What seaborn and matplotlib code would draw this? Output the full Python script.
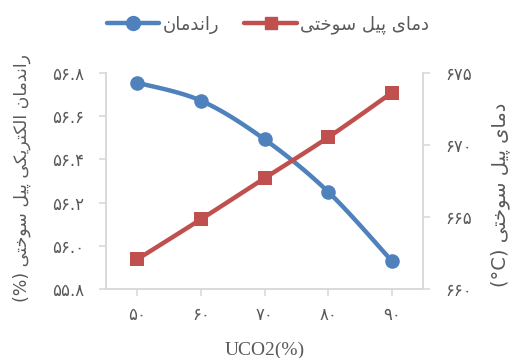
import numpy as np
import pandas as pd
import matplotlib
matplotlib.use("Agg")
import matplotlib.pyplot as plt
from matplotlib.lines import Line2D
from matplotlib.ticker import FixedLocator, FuncFormatter
import seaborn as sns

# ---- data -------------------------------------------------------------
uco2 = [50, 60, 70, 80, 90]
efficiency = [56.755, 56.672, 56.493, 56.25, 55.93]      # %
temperature = [662.06, 664.84, 667.69, 670.53, 673.63]   # °C

eff_name = "راندمان"
temp_name = "دمای پیل سوختی"
left_title = "راندمان الکتریکی پیل سوختی"
right_title = "دمای پیل سوختی"
x_title = "UCO2(%)"

eff_ticks = [55.8, 56.0, 56.2, 56.4, 56.6, 56.8]
temp_ticks = [660, 665, 670, 675]

BLUE = "#4F81BD"
RED = "#C0504D"
GREY_TXT = "#595959"
GREY_AX = "#D9D9D9"

# ---- Persian text helpers (contextual forms + right-to-left order) ----
FORMS = {
    'ا': ('\uFE8D', '\uFE8E', None, None),
    'د': ('\uFEA9', '\uFEAA', None, None),
    'ر': ('\uFEAD', '\uFEAE', None, None),
    'و': ('\uFEED', '\uFEEE', None, None),
    'پ': ('\uFB56', '\uFB57', '\uFB58', '\uFB59'),
    'ت': ('\uFE95', '\uFE96', '\uFE97', '\uFE98'),
    'خ': ('\uFEA5', '\uFEA6', '\uFEA7', '\uFEA8'),
    'س': ('\uFEB1', '\uFEB2', '\uFEB3', '\uFEB4'),
    'ک': ('\uFB8E', '\uFB8F', '\uFB90', '\uFB91'),
    'ل': ('\uFEDD', '\uFEDE', '\uFEDF', '\uFEE0'),
    'م': ('\uFEE1', '\uFEE2', '\uFEE3', '\uFEE4'),
    'ن': ('\uFEE5', '\uFEE6', '\uFEE7', '\uFEE8'),
    'ی': ('\uFBFC', '\uFBFD', '\uFBFE', '\uFBFF'),
}


def shape_word(word):
    out = []
    for i, ch in enumerate(word):
        f = FORMS[ch]
        prev = word[i - 1] if i > 0 else None
        nxt = word[i + 1] if i + 1 < len(word) else None
        join_prev = prev is not None and FORMS[prev][2] is not None
        join_next = nxt is not None and f[2] is not None
        if join_prev and join_next:
            g = f[3]
        elif join_prev:
            g = f[1]
        elif join_next:
            g = f[2]
        else:
            g = f[0]
        out.append(g)
    return ''.join(reversed(out))


def rtl(text):
    return ' '.join(shape_word(w) for w in reversed(text.split()))


FA_DIGITS = str.maketrans("0123456789", "۰۱۲۳۴۵۶۷۸۹")


def fa_num(s):
    return s.translate(FA_DIGITS)


def smooth(xs, ys, n=30):
    """Catmull-Rom curve through the points (like a smoothed spreadsheet line)."""
    x = np.asarray(xs, float)
    y = np.asarray(ys, float)
    px = np.concatenate([[x[0]], x, [x[-1]]])
    py = np.concatenate([[y[0]], y, [y[-1]]])
    cx, cy = [], []
    t = np.linspace(0, 1, n)
    for i in range(1, len(px) - 2):
        for arr, out in ((px, cx), (py, cy)):
            p0, p1, p2, p3 = arr[i - 1], arr[i], arr[i + 1], arr[i + 2]
            seg = 0.5 * ((2 * p1) + (-p0 + p2) * t
                         + (2 * p0 - 5 * p1 + 4 * p2 - p3) * t ** 2
                         + (-p0 + 3 * p1 - 3 * p2 + p3) * t ** 3)
            out.extend(seg if i == 1 else seg[1:])
    return np.array(cx), np.array(cy)


# ---- figure -----------------------------------------------------------
sns.set_style("white")
plt.rcParams['font.family'] = ['DejaVu Sans']

fig = plt.figure(figsize=(5.11, 3.58), dpi=100)
ax = fig.add_axes([106 / 511, 1 - 289 / 358, 317 / 511, 216 / 358])
ax2 = ax.twinx()

df = pd.DataFrame({"uco2": uco2, "eff": efficiency, "temp": temperature})

# efficiency (left axis)
sx, sy = smooth(df["uco2"], df["eff"])
ax.plot(sx, sy, color=BLUE, lw=3.2, solid_capstyle="round", zorder=3)
sns.scatterplot(data=df, x="uco2", y="eff", ax=ax, color=BLUE, marker="o",
                s=110, edgecolor=BLUE, linewidth=0, zorder=4, legend=False)

# fuel cell temperature (right axis)
tx, ty = smooth(df["uco2"], df["temp"])
ax2.plot(tx, ty, color=RED, lw=3.2, solid_capstyle="round", zorder=3)
sns.scatterplot(data=df, x="uco2", y="temp", ax=ax2, color=RED, marker="s",
                s=95, edgecolor=RED, linewidth=0, zorder=4, legend=False)

ax.set_xlim(45.1, 94.9)
ax.set_ylim(55.8, 56.8)
ax2.set_ylim(660, 675)

ax.xaxis.set_major_locator(FixedLocator(uco2 + [95]))
ax.xaxis.set_major_formatter(FuncFormatter(lambda v, p: fa_num(f"{v:.0f}") if v < 92 else ""))
ax.yaxis.set_major_locator(FixedLocator(eff_ticks))
ax.yaxis.set_major_formatter(FuncFormatter(lambda v, p: fa_num(f"{v:.1f}")))
ax2.yaxis.set_major_locator(FixedLocator(temp_ticks))
ax2.yaxis.set_major_formatter(FuncFormatter(lambda v, p: fa_num(f"{v:.0f}")))

for a in (ax, ax2):
    for s in a.spines.values():
        s.set_visible(False)
ax.spines['left'].set_visible(True)
ax.spines['bottom'].set_visible(True)
ax2.spines['right'].set_visible(True)
for s in (ax.spines['left'], ax.spines['bottom'], ax2.spines['right']):
    s.set_color(GREY_AX)
    s.set_linewidth(1.4)

ax.tick_params(axis='y', direction='out', length=5, width=1.2, color=GREY_AX,
               labelsize=12, labelcolor=GREY_TXT, pad=11, left=True)
ax.tick_params(axis='x', direction='out', length=5, width=1.2, color=GREY_AX,
               labelsize=12, labelcolor=GREY_TXT, pad=7, bottom=True)
ax2.tick_params(axis='y', direction='out', length=5, width=1.2, color=GREY_AX,
                labelsize=12, labelcolor=GREY_TXT, pad=11, right=True)
ax.set_xlabel("")
ax.set_ylabel("")
ax2.set_ylabel("")
ax.grid(False)
ax2.grid(False)

# axis titles
fig.text(265 / 511, 1 - 350 / 358, x_title, ha="center", va="center",
         fontsize=14, color=GREY_TXT, family=["Liberation Serif"])
fig.text(22 / 511, 1 - 178 / 358, "(%) " + rtl(left_title), rotation=90,
         ha="center", va="center", fontsize=12.5, color=GREY_TXT)
fig.text(500 / 511, 1 - 195 / 358, "(°C) " + rtl(right_title), rotation=90,
         ha="center", va="center", fontsize=14, color=GREY_TXT)

# legend
handles = [
    Line2D([], [], color=BLUE, lw=3.2, marker="o", markersize=10),
    Line2D([], [], color=RED, lw=3.2, marker="s", markersize=9),
]
leg = fig.legend(handles, [rtl(eff_name), rtl(temp_name)], ncol=2,
                 loc="center", bbox_to_anchor=(268 / 511, 1 - 25 / 358),
                 frameon=False, fontsize=13, handlelength=2.9,
                 handletextpad=0.2, columnspacing=1.4, labelcolor=GREY_TXT)

fig.savefig("out.png", dpi=100)
